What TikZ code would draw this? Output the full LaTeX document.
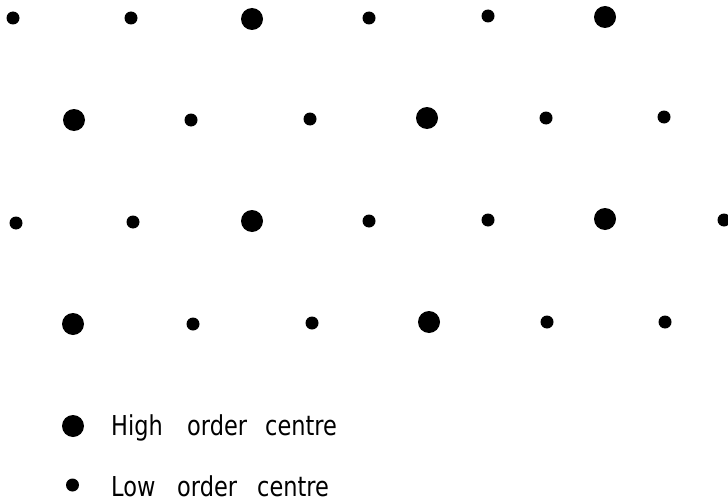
\documentclass[tikz,border=0pt]{standalone}
\usepackage{fontspec}
\setmainfont{DejaVu Sans}[FakeStretch=0.82]
\begin{document}
\begin{tikzpicture}[x=1pt,y=-1pt,
  big/.style={circle,fill=black,inner sep=0pt,minimum size=22pt},
  small/.style={circle,fill=black,inner sep=0pt,minimum size=13pt},
  legend/.style={inner sep=0pt,anchor=base west,font=\fontsize{27.4}{30}\selectfont}]
\useasboundingbox (0,0) rectangle (728,503);
% row 1
\node[small] (a1) at (13,18) {};
\node[small] (a2) at (131,18) {};
\node[big]   (a3) at (252,19) {};
\node[small] (a4) at (369,18) {};
\node[small] (a5) at (488,16) {};
\node[big]   (a6) at (605,17) {};
% row 2
\node[big]   (b1) at (74,120) {};
\node[small] (b2) at (191,120) {};
\node[small] (b3) at (310,119) {};
\node[big]   (b4) at (427,118) {};
\node[small] (b5) at (546,118) {};
\node[small] (b6) at (664,117) {};
% row 3
\node[small] (c1) at (16,223) {};
\node[small] (c2) at (133,222) {};
\node[big]   (c3) at (252,221) {};
\node[small] (c4) at (369,221) {};
\node[small] (c5) at (488,220) {};
\node[big]   (c6) at (605,219) {};
\node[small] (c7) at (724,220) {};
% row 4
\node[big]   (d1) at (73,324) {};
\node[small] (d2) at (193,324) {};
\node[small] (d3) at (312,323) {};
\node[big]   (d4) at (429,322) {};
\node[small] (d5) at (547,322) {};
\node[small] (d6) at (665,322) {};
% legend
\node[big]   (lh) at (73,426) {};
\node[small] (ll) at (72.5,485) {};
\node[legend] (th) at (111,435) {\makebox[76pt][l]{High}\makebox[78pt][l]{order}centre};
\node[legend] (tl) at (111,496) {\makebox[66pt][l]{Low}\makebox[80pt][l]{order}centre};
\end{tikzpicture}
\end{document}
